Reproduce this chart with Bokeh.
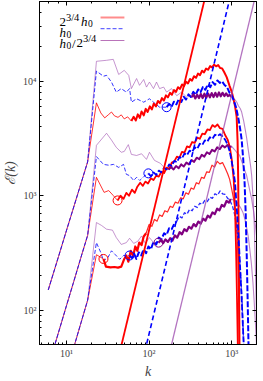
from bokeh.plotting import figure
from bokeh.models import LogAxis, LogTicker, CustomJSTickFormatter, Label, Arrow, Range1d
from bokeh.embed import file_html
from bokeh.resources import INLINE

RED = "#ff0000"
BLUE = "#0000ff"
PURPLE = "#800080"
LPURPLE = "#a050b0"

# ---------------- data ----------------
k_low = [6, 8, 10, 12, 15, 18]
E_low_1 = [150, 295, 500, 765, 1290, 1980]
E_low_2 = [32, 64, 110, 170, 292, 450]
E_low_3 = [8.3, 16.8, 29, 45, 78, 122]

# group 1 (top)
R1_kt = [23, 26, 29, 32, 35, 38, 42, 46, 50, 55, 61]
R1_Et = [6500, 5300, 4800, 5100, 5400, 5000, 4850, 5100, 4700, 4900, 4500]
R1_k = [61, 65, 69, 73, 77, 81, 86, 91, 96, 102, 108, 114, 121, 128, 135, 143, 151, 160, 169, 179, 189,
        200, 212, 224, 237, 251, 265, 280, 296, 313, 331, 350, 370, 391, 414, 438, 463, 490, 518, 548,
        580, 613, 648, 686, 725, 767, 811, 870, 946, 1000, 1058, 1100, 1150, 1180, 1200, 1215, 1230, 1245]
R1_E = [4500, 4900, 4550, 5150, 4800, 5450, 5050, 5750, 5400, 6050, 5700, 6400, 6050, 6750, 6450, 7150,
        6800, 7550, 7250, 7950, 7650, 8400, 8100, 8900, 8600, 9400, 9100, 9950, 9600, 10500, 10150, 11100,
        10750, 11700, 11350, 12400, 12000, 12950, 12650, 13600, 13250, 14000, 13550, 13900, 13100, 13000,
        12100, 10900, 9100, 8150, 6900, 6050, 4900, 3000, 1400, 500, 150, 45]

B1_kt = [23, 28, 30.5, 35, 40, 46, 53, 58, 61, 70.5, 86, 101, 113, 134, 163]
B1_Et = [12300, 11100, 11300, 9870, 8060, 8650, 8060, 8650, 6580, 7050, 6580, 7050, 6580, 5950, 5950]
B1_k = [163, 175, 187, 200, 214, 229, 245, 262, 280, 300, 321, 343, 367, 393, 420, 449, 480, 514, 550,
        588, 629, 672, 718, 767, 820, 877, 946, 1000, 1058, 1130, 1210, 1270, 1322, 1380, 1435, 1480,
        1520, 1560, 1600]
B1_E = [5950, 6350, 6000, 6650, 6300, 7000, 6600, 7350, 6950, 7700, 7300, 8100, 7650, 8500, 8050, 8950,
        8450, 9400, 8900, 9850, 9350, 10200, 9700, 10000, 9300, 8950, 7900, 7600, 6850, 5950, 4700,
        3800, 3100, 2100, 1300, 700, 320, 130, 50]

P1_kt = [23, 30.5, 36.8, 42.8, 50, 56.6, 61, 70.5, 76.5, 86, 93, 101, 113, 123, 134, 150, 163, 187,
         216, 248, 285, 328]
P1_Et = [15000, 15300, 15600, 11500, 12500, 11300, 8650, 10600, 9240, 10400, 8920, 9870, 8650, 9870,
         8650, 8920, 8060, 8650, 7500, 8060, 7280, 7500]
P1_k = [328, 345, 363, 382, 402, 423, 445, 468, 492, 518, 545, 573, 603, 634, 667, 702, 738, 776, 816,
        858, 902, 948, 997]
P1_E = [7300, 7700, 7100, 7650, 7150, 7750, 7150, 7800, 7200, 7850, 7250, 7900, 7300, 7950, 7350, 8000,
        7400, 7950, 7450, 7850, 7450, 7600, 7300]
P1_kd = [997, 1048, 1100, 1150, 1210, 1270, 1322, 1400, 1470, 1520, 1580, 1650, 1700, 1748, 1810,
         1880, 1940, 2000, 2050]
P1_Ed = [7300, 7100, 6900, 6600, 6100, 5800, 5400, 4500, 3700, 3200, 2600, 2100, 1800, 1500, 1000,
         550, 230, 90, 30]

# group 2 (middle)
R2_kt = [23, 28.5, 32.4, 37, 41.5]
R2_Et = [1450, 1070, 1110, 1000, 910]
R2_k = [41.5, 45, 49, 53, 57, 62, 67, 72, 78, 84, 90, 97, 105, 113, 122, 131, 141, 152, 163, 175, 188,
        202, 217, 233, 250, 268, 288, 309, 332, 357, 383, 411, 441, 473, 508, 545, 585, 628, 674, 723,
        776, 833, 894, 946, 1000, 1058, 1100, 1130, 1160, 1190]
R2_E = [910, 1000, 940, 1060, 1000, 1130, 1060, 1200, 1300, 1220, 1330, 1280, 1420, 1370, 1500, 1470,
        1620, 1580, 1760, 1720, 1950, 2000, 2200, 2150, 2420, 2380, 2700, 2650, 2950, 2900, 3220, 3150,
        3500, 3450, 3800, 3750, 4150, 4000, 4200, 3900, 3850, 3400, 3100, 2700, 2100, 1400, 750, 350,
        130, 45]

B2_kt = [23, 28, 32.4, 37, 42.8, 49, 53, 58, 65, 70.5, 77, 86, 98]
B2_Et = [2200, 1880, 1850, 1880, 1770, 1880, 1540, 1500, 1360, 1450, 1360, 1470, 1570]
B2_k = [98, 105, 113, 122, 131, 141, 152, 163, 175, 188, 202, 217, 233, 250, 268, 288, 309, 332, 357,
        383, 411, 441, 473, 508, 545, 585, 628, 674, 723, 776, 833, 894, 946, 1000, 1050, 1100, 1150,
        1200, 1240, 1280, 1320, 1360, 1400, 1430]
B2_E = [1570, 1480, 1600, 1520, 1660, 1600, 1760, 1700, 1880, 1820, 2020, 1970, 2180, 2120, 2340, 2270,
        2480, 2420, 2650, 2580, 2850, 2780, 3050, 2980, 3250, 3150, 3420, 3330, 3450, 3300, 3100, 2800,
        2450, 2000, 1650, 1300, 800, 500, 320, 200, 130, 80, 50, 35]

P2_kt = [23, 30.5, 35, 40, 46, 50, 56, 61, 70.5, 81, 93, 101, 116, 137, 155, 172]
P2_Et = [2760, 3520, 3070, 2650, 2400, 2440, 2800, 2300, 2250, 2330, 2080, 2400, 2040, 1920, 1740, 1700]
P2_k = [172, 185, 198, 212, 228, 245, 263, 283, 304, 327, 351, 377, 405, 435, 467, 502, 539, 579, 622,
        668, 718, 771, 828, 889, 955, 1000]
P2_E = [1700, 1780, 1700, 1820, 1740, 1880, 1800, 1950, 1880, 2050, 1980, 2150, 2090, 2280, 2200, 2400,
        2320, 2520, 2440, 2650, 2560, 2750, 2650, 2780, 2680, 2700]
P2_kd = [1000, 1075, 1150, 1250, 1340, 1430, 1520, 1620, 1750, 1850, 1940, 2050]
P2_Ed = [2700, 2550, 2400, 2250, 1950, 1700, 1500, 1200, 930, 720, 550, 380]

# group 3 (bottom)
R3_kt = [23, 28]
R3_Et = [305, 280]
R3_k = [28, 30, 34, 38, 42, 46, 50, 53, 56, 60, 64, 68, 72, 76, 81, 86, 92]
R3_E = [280, 240, 236, 238, 235, 240, 280, 300, 265, 330, 295, 360, 330, 390, 370, 440, 470]
R3_kd = [92, 100, 108, 116, 125, 134, 144, 155, 167, 180, 193, 208, 224, 241, 259, 279, 300, 323, 347,
         373, 401, 432, 464, 499, 537, 578, 622, 669, 720, 775, 834, 897, 946, 1000, 1058, 1100, 1150,
         1180, 1210, 1240]
R3_Ed = [470, 560, 540, 620, 600, 680, 660, 740, 720, 810, 790, 880, 860, 960, 940, 1060, 1030, 1170,
         1140, 1300, 1270, 1450, 1420, 1620, 1600, 1850, 1780, 2000, 1900, 1950, 1750, 1550, 1390, 1150,
         930, 750, 560, 350, 140, 50]

B3_kt = [23, 26, 28, 31.7, 35, 39, 44, 49, 58]
B3_Et = [389, 318, 270, 288, 330, 305, 278, 300, 300]
B3_k = [58, 62, 66, 70, 75, 80, 86, 92, 98, 105, 113, 122, 131, 141, 152, 163, 175, 188, 202, 216]
B3_E = [300, 285, 310, 280, 320, 300, 340, 315, 360, 340, 395, 375, 430, 415, 470, 455, 520, 510, 570, 600]
B3_kd = [216, 232, 250, 268, 288, 309, 332, 357, 383, 411, 441, 473, 508, 545, 585, 628, 674, 723, 776,
         833, 894, 960, 1030, 1100, 1180, 1260, 1330, 1400]
B3_Ed = [600, 660, 640, 710, 690, 760, 740, 810, 790, 860, 840, 910, 890, 970, 950, 1040, 1010, 1100,
         1040, 1030, 950, 900, 800, 660, 450, 260, 130, 50]

P3_kt = [23, 26.5, 30.5, 36, 40, 46, 53, 58, 65, 73, 81, 90, 101, 113, 130]
P3_Et = [583, 550, 510, 500, 431, 375, 389, 425, 383, 400, 445, 383, 431, 389, 389]
P3_k = [130, 139, 148, 158, 169, 180, 192, 205, 219, 234, 250, 267, 285, 304, 325, 347, 370, 395, 422,
        450, 481, 513, 548, 585, 625, 667, 712, 760, 812, 867, 925, 973]
P3_E = [389, 410, 385, 415, 395, 425, 405, 450, 430, 480, 460, 510, 490, 535, 515, 565, 540, 595, 570,
        630, 605, 670, 645, 715, 690, 770, 745, 830, 805, 900, 870, 935]
P3_kd = [973, 1050, 1100, 1160, 1210, 1290, 1370, 1450, 1520, 1590, 1650, 1730, 1810, 1880, 1940, 2000]
P3_Ed = [935, 920, 910, 880, 840, 780, 715, 620, 527, 440, 352, 260, 175, 115, 77, 50]

# circles (k, E)
circ_red_k = [41.5, 28]
circ_red_E = [910, 280]
circ_blue_k = [163, 98, 58]
circ_blue_E = [5950, 1570, 300]
circ_pur_k = [130]
circ_pur_E = [389]

# k^3 reference lines
k3_red_k = [40, 620]
k3_red_E = [32, 119300]
k3_blue_k = [80, 1200]
k3_blue_E = [31.8, 107000]
k3_pur_k = [160, 2100]
k3_pur_E = [31.3, 70800]

# ---------------- figure ----------------
p = figure(frame_width=217, frame_height=343, x_axis_type="log", y_axis_type="log",
           x_range=Range1d(4.7, 2000), y_range=Range1d(50, 50000),
           output_backend="svg", toolbar_location=None,
           min_border_left=35, min_border_right=3, min_border_top=1, min_border_bottom=29,
           background_fill_color="white", border_fill_color="white")
p.grid.visible = False
p.outline_line_color = "black"
p.outline_line_width = 1

fmt = CustomJSTickFormatter(code="""
const e = Math.round(Math.log10(tick));
const s = {"0":"\\u2070","1":"\\u00b9","2":"\\u00b2","3":"\\u00b3","4":"\\u2074","5":"\\u2075"};
return "10" + String(e).split("").map(c => s[c]).join("");
""")
for ax in [p.xaxis[0], p.yaxis[0]]:
    ax.formatter = fmt
    ax.major_tick_in = 4
    ax.major_tick_out = 0
    ax.minor_tick_in = 2
    ax.minor_tick_out = 0
    ax.axis_line_color = "black"
    ax.major_label_text_font = "Liberation Serif"
    ax.major_label_text_font_size = "10px"
    ax.major_label_standoff = 3
    ax.axis_label_text_font = "Liberation Serif"
    ax.axis_label_text_font_size = "14px"
    ax.axis_label_text_font_style = "italic"
    ax.axis_label_standoff = 2
p.xaxis[0].axis_label = "k"
p.yaxis[0].axis_label = "ℰ(k)"

blank = CustomJSTickFormatter(code="return ''")
for side in ["above", "right"]:
    ax = LogAxis(ticker=LogTicker(), formatter=blank, major_tick_in=4, major_tick_out=0,
                 minor_tick_in=2, minor_tick_out=0, major_label_text_font_size="0px",
                 major_label_standoff=0, axis_line_color="black")
    p.add_layout(ax, side)

def ln(k, E, color, width=1.0, alpha=1.0, dash="solid"):
    p.line(k, E, line_color=color, line_width=width, line_alpha=alpha, line_dash=dash,
           line_join="round")

# thin low-k parts
ln(k_low + R1_kt, E_low_1 + R1_Et, RED, 1, 0.8)
ln(k_low + R2_kt, E_low_2 + R2_Et, RED, 1, 0.8)
ln(k_low + R3_kt, E_low_3 + R3_Et, RED, 1, 0.8)
ln(k_low + P1_kt, E_low_1 + P1_Et, LPURPLE, 1, 0.6)
ln(k_low + P2_kt, E_low_2 + P2_Et, LPURPLE, 1, 0.6)
ln(k_low + P3_kt, E_low_3 + P3_Et, LPURPLE, 1, 0.6)
ln(k_low + B1_kt, E_low_1 + B1_Et, BLUE, 1, 0.8, "4 2")
ln(k_low + B2_kt, E_low_2 + B2_Et, BLUE, 1, 0.8, "4 2")
ln(k_low + B3_kt, E_low_3 + B3_Et, BLUE, 1, 0.8, "4 2")

# thin high-k parts
ln(R3_kd, R3_Ed, RED, 1.2, 0.85)
ln(B3_kd, B3_Ed, BLUE, 1.3, 0.85, "4 2")
ln(P1_kd, P1_Ed, LPURPLE, 1.1, 0.7)
ln(P2_kd, P2_Ed, LPURPLE, 1.1, 0.7)
ln(P3_kd, P3_Ed, LPURPLE, 1.1, 0.7)

# thick parts
ln(R1_k, R1_E, RED, 2)
ln(R2_k, R2_E, RED, 1.8)
ln(R3_k, R3_E, RED, 2.2)
ln(B1_k, B1_E, BLUE, 2, 1, "6 2")
ln(B2_k, B2_E, BLUE, 1.8, 1, "6 2")
ln(B3_k, B3_E, BLUE, 2, 1, "6 2")
ln(P1_k, P1_E, PURPLE, 2.2)
ln(P2_k, P2_E, PURPLE, 2.0)
ln(P3_k, P3_E, PURPLE, 2.2)

# k^3 lines
ln(k3_red_k, k3_red_E, RED, 1.8)
ln(k3_blue_k, k3_blue_E, BLUE, 1.6, 1, "5 3")
ln(k3_pur_k, k3_pur_E, LPURPLE, 1.3, 0.8)

# circles
p.scatter(circ_red_k, circ_red_E, marker="circle", size=9, fill_color=None, line_color=RED, line_width=1)
p.scatter(circ_blue_k, circ_blue_E, marker="circle", size=9, fill_color=None, line_color=BLUE, line_width=1)
p.scatter(circ_pur_k, circ_pur_E, marker="circle", size=9, fill_color=None, line_color=PURPLE, line_width=1)

# legend (manual, TeX-like)
FONT = "Liberation Serif"
def lab(x, y, t, dx=0, dy=0, size="13px", style="normal"):
    p.add_layout(Label(x=x, y=y, text=t, x_offset=dx, y_offset=dy, text_font=FONT,
                       text_font_size=size, text_font_style=style, text_baseline="alphabetic",
                       text_color="black"))

lx = 8.2
rows = [33400, 26800, 21500]
lab(lx, rows[0], "2", 0, 0)
lab(lx, rows[0], "3/4", 6.5, 4.5, "10.5px")
lab(lx, rows[0], "h", 21.5, 0, style="italic")
lab(lx, rows[0], "0", 28.5, -2, "9.5px")
lab(lx, rows[1], "h", 0, 0, style="italic")
lab(lx, rows[1], "0", 7, -2, "9.5px")
lab(lx, rows[2], "h", 0, 0, style="italic")
lab(lx, rows[2], "0", 7, -2, "9.5px")
lab(lx, rows[2], "/", 12.5, 0)
lab(lx, rows[2], "2", 17, 0)
lab(lx, rows[2], "3/4", 23.5, 4.5, "10.5px")

sx0, sx1 = 25.8, 50.2
p.add_layout(Arrow(end=None, x_start=sx0, y_start=36200, x_end=sx1, y_end=36200,
                   line_color=RED, line_width=2, line_alpha=0.45))
p.add_layout(Arrow(end=None, x_start=sx0, y_start=29000, x_end=sx1, y_end=29000,
                   line_color=BLUE, line_width=1.2, line_alpha=0.6, line_dash="4 2"))
p.add_layout(Arrow(end=None, x_start=sx0, y_start=22800, x_end=sx1, y_end=22800,
                   line_color=PURPLE, line_width=1.2, line_alpha=0.55))

open("out.html", "w").write(file_html(p, INLINE))
